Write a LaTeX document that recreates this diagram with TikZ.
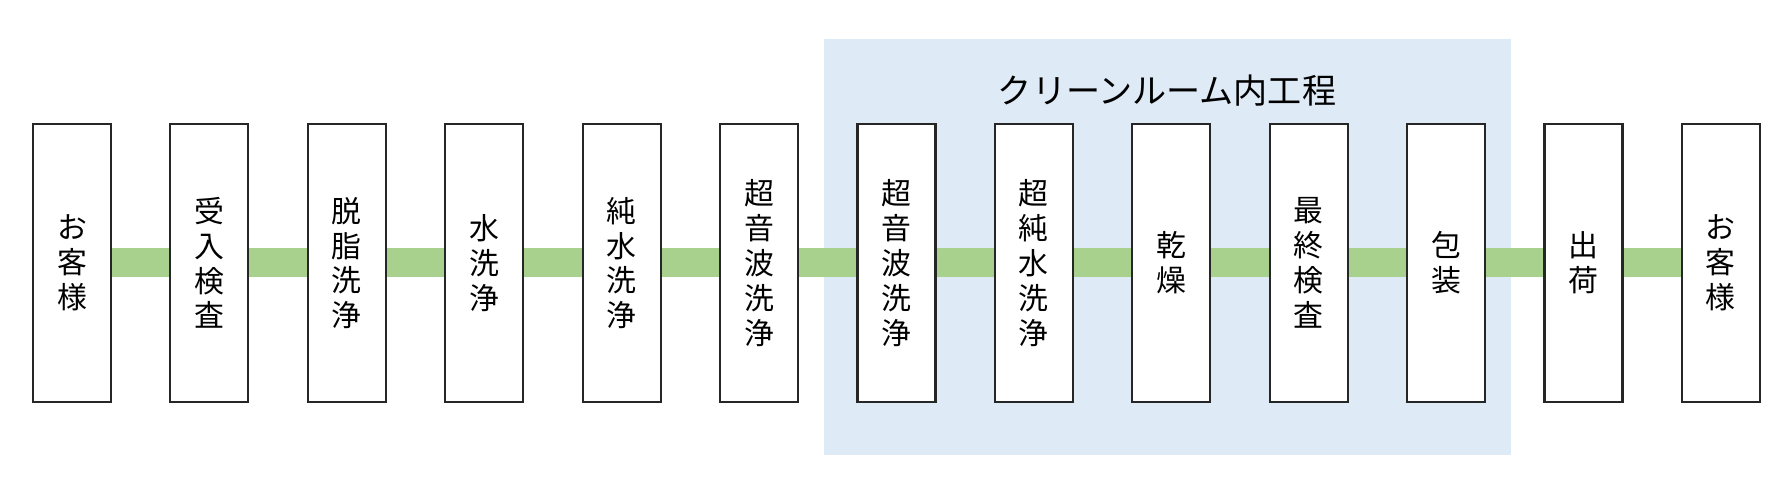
\documentclass[tikz,border=0pt]{standalone}
\usepackage{fontspec}
\usetikzlibrary{positioning}
\newfontfamily\cjk{Noto Sans CJK JP}
\definecolor{roomblue}{RGB}{222,235,247}
\definecolor{flowgreen}{RGB}{169,209,142}
\definecolor{boxline}{RGB}{38,38,38}

\begin{document}
\begin{tikzpicture}[
  procbox/.style={draw=boxline, fill=white, line width=0.6pt,
    minimum width=0.78cm, minimum height=2.78cm, inner sep=0pt,
    align=center, font=\cjk\fontsize{8.5pt}{9.9pt}\selectfont},
  flowbar/.style={flowgreen, line width=0.29cm},
  node distance=0.573cm
]
  \useasboundingbox (0,0) rectangle (17.92,5.03);
  % clean room area
  \fill[roomblue] (8.24,4.64) rectangle (15.11,0.48);
  \node[font=\cjk\fontsize{9.7pt}{11pt}\selectfont] (roomtitle)
    at (11.67,4.12) {クリーンルーム内工程};

  \node[procbox] (p1) at (0.72,2.40) {お\\客\\様};
  \node[procbox, right=of p1] (p2) {受\\入\\検\\査};
  \node[procbox, right=of p2] (p3) {脱\\脂\\洗\\浄};
  \node[procbox, right=of p3] (p4) {水\\洗\\浄};
  \node[procbox, right=of p4] (p5) {純\\水\\洗\\浄};
  \node[procbox, right=of p5] (p6) {超\\音\\波\\洗\\浄};
  \node[procbox, right=of p6] (p7) {超\\音\\波\\洗\\浄};
  \node[procbox, right=of p7] (p8) {超\\純\\水\\洗\\浄};
  \node[procbox, right=of p8] (p9) {乾\\燥};
  \node[procbox, right=of p9] (p10) {最\\終\\検\\査};
  \node[procbox, right=of p10] (p11) {包\\装};
  \node[procbox, right=of p11] (p12) {出\\荷};
  \node[procbox, right=of p12] (p13) {お\\客\\様};

  \foreach \a/\b in {1/2,2/3,3/4,4/5,5/6,6/7,7/8,8/9,9/10,10/11,11/12,12/13}
    \draw[flowbar] (p\a.east) -- (p\b.west);
\end{tikzpicture}
\end{document}
